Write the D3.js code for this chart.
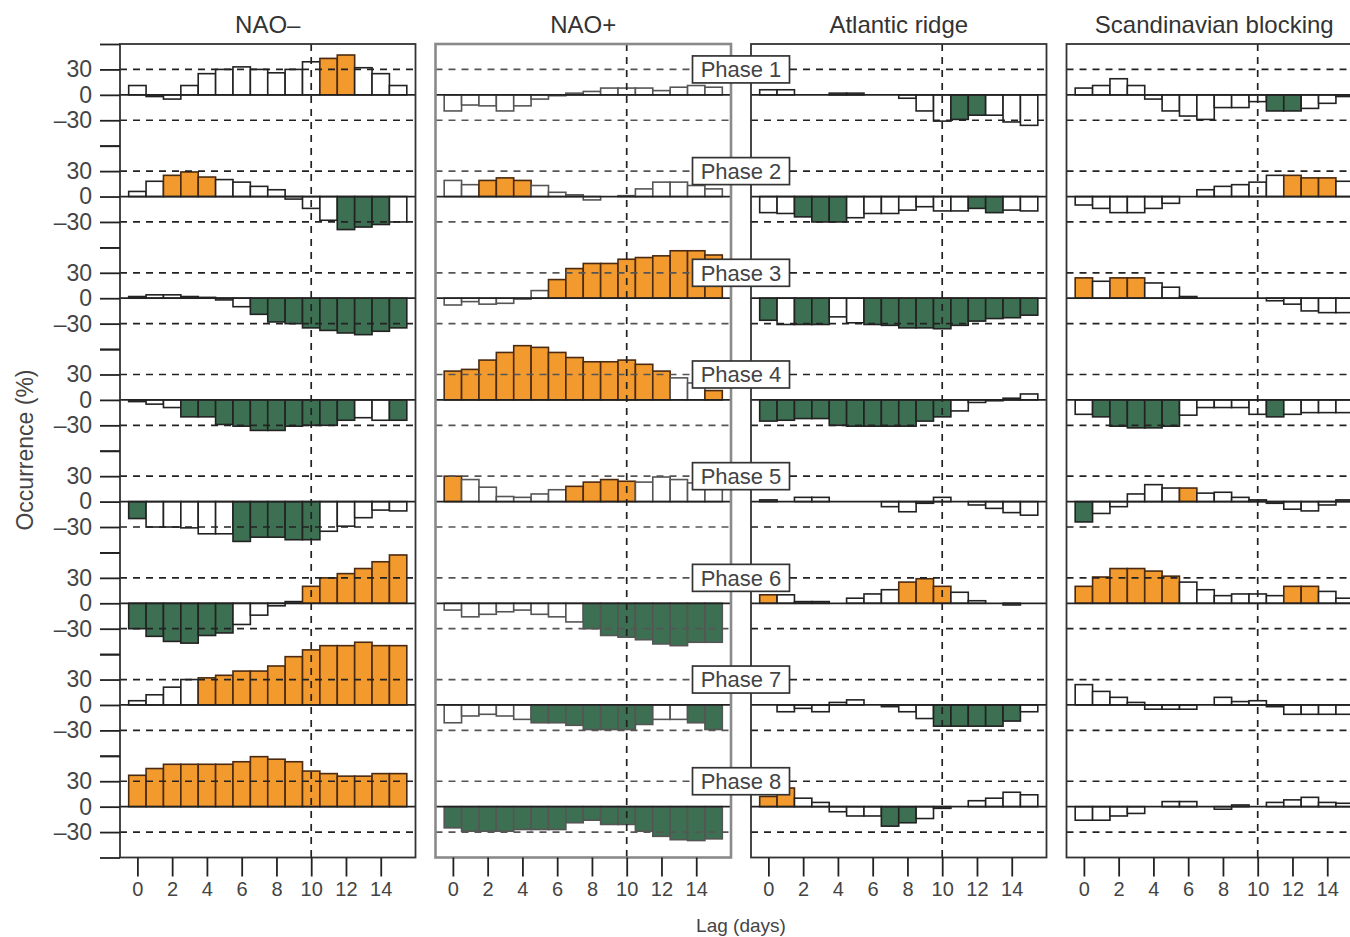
<!DOCTYPE html>
<html>
<head>
<meta charset="utf-8">
<script src="https://cdn.jsdelivr.net/npm/d3@7"></script>
<style>
body { margin: 0; background: #fff; }
text { font-family: "Liberation Sans", Arial, sans-serif; }
</style>
</head>
<body>
<script>
// lag days on the x axis, one bar per lag
var lags = [0,1,2,3,4,5,6,7,8,9,10,11,12,13,14,15];
var xTicks = [0,2,4,6,8,10,12,14];
var yTicks = [60,30,0,-30,-60];
var phases = ["Phase 1","Phase 2","Phase 3","Phase 4","Phase 5","Phase 6","Phase 7","Phase 8"];
var titles = ["NAO\u2013","NAO+","Atlantic ridge","Scandinavian blocking"];

// occurrence anomaly (%) per phase (rows) and lag (columns)
var naoMinus = [
  [11,-2,-5,11,25,30,33,30,26,30,39,43,47,32,25,11],
  [6,18,25,29,23,20,17,12,8,-3,-14,-28,-39,-36,-33,-30],
  [2,4,4,2,1,-2,-10,-19,-28,-30,-35,-38,-41,-43,-39,-35],
  [-2,-5,-9,-20,-20,-29,-31,-36,-36,-31,-30,-30,-24,-21,-24,-24],
  [-20,-30,-30,-31,-38,-38,-47,-42,-42,-45,-45,-35,-29,-19,-10,-11],
  [-30,-39,-45,-47,-38,-35,-25,-14,-3,2,20,30,35,41,49,57],
  [5,12,21,30,32,35,40,40,46,57,65,70,70,74,70,70],
  [37,45,50,50,50,50,53,59,56,53,42,39,36,36,39,39]
];
var naoPlus = [
  [-19,-12,-13,-19,-13,-5,-1,2,4,8,8,8,5,9,11,9],
  [19,14,19,22,19,13,5,2,-4,0,1,9,17,17,13,9],
  [-8,-4,-7,-6,-1,9,22,35,41,41,46,48,50,56,56,51],
  [34,36,47,56,64,62,56,50,45,45,47,42,34,26,20,11],
  [30,26,17,6,5,9,14,18,23,26,24,23,29,26,22,20],
  [-8,-16,-13,-10,-8,-13,-16,-22,-30,-38,-40,-43,-48,-50,-46,-46],
  [-21,-13,-11,-13,-17,-21,-21,-24,-29,-29,-29,-23,-17,-17,-21,-29],
  [-25,-29,-29,-29,-27,-27,-27,-19,-16,-21,-21,-29,-35,-39,-40,-38]
];
var atlRidge = [
  [6,6,0,0,2,2,0,0,-4,-19,-31,-29,-24,-24,-32,-36],
  [-19,-20,-24,-30,-30,-25,-20,-20,-16,-12,-17,-17,-14,-19,-16,-17],
  [-26,-31,-31,-31,-22,-29,-31,-32,-35,-35,-36,-32,-27,-24,-23,-20],
  [-25,-24,-22,-22,-30,-31,-31,-31,-31,-25,-20,-13,-3,-1,2,7],
  [2,0,5,5,0,0,0,-6,-12,-2,5,0,-4,-8,-13,-16],
  [10,10,2,2,0,6,11,16,25,29,20,13,3,0,-2,0],
  [0,-8,-4,-8,3,6,0,-2,-8,-16,-25,-25,-25,-25,-19,-8],
  [12,22,10,5,-6,-11,-11,-23,-19,-14,-2,0,7,10,17,14]
];
var scandBlock = [
  [8,11,19,11,-5,-19,-25,-29,-15,-15,-8,-19,-19,-16,-10,-2],
  [-10,-14,-19,-19,-14,-8,0,8,12,14,17,25,25,22,22,18],
  [24,20,24,24,18,13,2,0,0,0,0,-3,-7,-15,-17,-17],
  [-17,-20,-31,-33,-33,-31,-18,-9,-9,-9,-17,-20,-17,-15,-15,-15],
  [-24,-14,-6,9,20,16,16,10,11,5,2,-2,-9,-11,-4,2],
  [20,31,41,41,38,32,25,16,9,11,11,9,20,20,14,6],
  [24,16,9,3,-5,-5,-5,0,9,4,5,-2,-11,-11,-11,-11],
  [-16,-16,-11,-8,0,6,6,0,-3,2,0,5,8,11,5,4]
];

// significant bars (1) per phase, one char per lag
var naoMinusSig = ["0000000000011000","0011100000001110","0000000111111111","0001111111111001",
                   "1000001111100000","1111110000111111","0000111111111111","1111111111111111"];
var naoPlusSig  = ["0000000000000000","0011100000000000","0000001111111111","1111111111111001",
                   "1000000111100000","0000000011111111","0000011111110011","1111111111111111"];
var atlRidgeSig = ["0000000000011000","0011100000001100","1011001111111111","1111111111100000",
                   "0000000000000000","1000000011100000","0000000000111110","1100000110000000"];
var scandBlockSig = ["0000000000011000","0000000000001110","1011000000000000","0111110000010000",
                     "1000001000000000","1111110000001100","0000000000000000","0000000000000000"];

var panels = [
  {title: titles[0], values: naoMinus, sig: naoMinusSig},
  {title: titles[1], values: naoPlus, sig: naoPlusSig},
  {title: titles[2], values: atlRidge, sig: atlRidgeSig},
  {title: titles[3], values: scandBlock, sig: scandBlockSig}
];

var orange = "#f39a2e", green = "#3d7052";

var svg = d3.select("body").append("svg")
    .attr("width", 1350)
    .attr("height", 937);

var col = d3.scaleBand().domain(titles).range([120, 1362]).paddingInner(0.0634);
var row = d3.scaleBand().domain(phases).range([44, 857.5]);
var y = d3.scaleLinear().domain([60, -60]).range([0, row.bandwidth()]);

var fmt = function(d) {
  if (Math.abs(d) == 60) return "";
  return d < 0 ? "\u2013" + (-d) : "" + d;
};

panels.forEach(function(p, pi) {
  var x0 = col(p.title);
  var x = d3.scaleLinear().domain([-1, 16]).range([x0, x0 + col.bandwidth()]);
  var isPlus = pi == 1;
  var g = svg.append("g");

  phases.forEach(function(ph, ri) {
    var gr = g.append("g").attr("transform", "translate(0," + row(ph) + ")");
    var vals = p.values[ri];

    // bars
    gr.selectAll(".bar")
      .data(lags)
      .enter().append("rect")
        .attr("class", "bar")
        .attr("x", function(d) { return x(d - 0.5); })
        .attr("width", x(0.5) - x(-0.5))
        .attr("y", function(d) { return y(Math.max(vals[d], 0)); })
        .attr("height", function(d) { return Math.abs(y(vals[d]) - y(0)); })
        .attr("fill", function(d) {
          if (p.sig[ri][d] != "1") return "white";
          return vals[d] > 0 ? orange : green;
        })
        .attr("stroke", function(d) {
          return (p.sig[ri][d] == "1" && vals[d] > 0) ? "#4a2a10" : (isPlus ? "#555" : "#222");
        })
        .attr("stroke-width", 1.6);

    // reference lines at +/-30
    gr.selectAll(".ref")
      .data([30, -30])
      .enter().append("line")
        .attr("x1", x0).attr("x2", x0 + col.bandwidth())
        .attr("y1", y).attr("y2", y)
        .attr("stroke", isPlus ? "#555" : "#222")
        .attr("stroke-width", 1.7)
        .attr("stroke-dasharray", "7,6");

    gr.append("line")
      .attr("x1", x0).attr("x2", x0 + col.bandwidth())
      .attr("y1", y(0)).attr("y2", y(0))
      .attr("stroke", "#222")
      .attr("stroke-width", 1.7);
  });

  // lag 10 marker
  g.append("line")
    .attr("x1", x(10)).attr("x2", x(10))
    .attr("y1", row.range()[0]).attr("y2", row.range()[1])
    .attr("stroke", "#222")
    .attr("stroke-width", 1.7)
    .attr("stroke-dasharray", "7,6");

  g.append("rect")
    .attr("x", x0).attr("y", row.range()[0])
    .attr("width", col.bandwidth())
    .attr("height", row.range()[1] - row.range()[0])
    .attr("fill", "none")
    .attr("stroke", isPlus ? "#8a8a8a" : "#333")
    .attr("stroke-width", isPlus ? 2.6 : 1.8);

  var xa = g.append("g")
    .attr("transform", "translate(0," + row.range()[1] + ")")
    .call(d3.axisBottom(x).tickValues(xTicks).tickSize(19).tickPadding(5));
  xa.select(".domain").remove();
  xa.selectAll("line").attr("stroke", "#222").attr("stroke-width", 1.8);
  xa.selectAll("text").attr("font-size", 20).attr("fill", "#444")
    .style("font-family", "'Liberation Sans', Arial, sans-serif");

  svg.append("text")
    .attr("x", x0 + col.bandwidth() / 2)
    .attr("y", 33)
    .attr("text-anchor", "middle")
    .attr("font-size", 24)
    .attr("fill", "#333")
    .text(p.title);
});

// left axis, one per phase band
phases.forEach(function(ph) {
  var ya = svg.append("g")
    .attr("transform", "translate(" + col(titles[0]) + "," + row(ph) + ")")
    .call(d3.axisLeft(y).tickValues(yTicks).tickSize(20).tickPadding(8).tickFormat(fmt));
  ya.select(".domain").remove();
  ya.selectAll("line").attr("stroke", "#222").attr("stroke-width", 1.8);
  ya.selectAll("text").attr("font-size", 23).attr("fill", "#444")
    .style("font-family", "'Liberation Sans', Arial, sans-serif");
});

// phase labels between NAO+ and Atlantic ridge
var labelX = (col(titles[1]) + col.bandwidth() + col(titles[2])) / 2;
phases.forEach(function(ph) {
  var cy = row(ph) + y(30);
  svg.append("rect")
    .attr("x", labelX - 48.5).attr("y", cy - 13.5)
    .attr("width", 97).attr("height", 27)
    .attr("fill", "white")
    .attr("stroke", "#333")
    .attr("stroke-width", 1.7);
  svg.append("text")
    .attr("x", labelX).attr("y", cy)
    .attr("dy", "0.36em")
    .attr("text-anchor", "middle")
    .attr("font-size", 22)
    .attr("fill", "#444")
    .text(ph);
});

svg.append("text")
  .attr("transform", "translate(33,450) rotate(-90)")
  .attr("text-anchor", "middle")
  .attr("font-size", 23)
  .attr("fill", "#444")
  .text("Occurrence (%)");

svg.append("text")
  .attr("x", labelX).attr("y", 932)
  .attr("text-anchor", "middle")
  .attr("font-size", 19)
  .attr("fill", "#444")
  .text("Lag (days)");
</script>
</body>
</html>
